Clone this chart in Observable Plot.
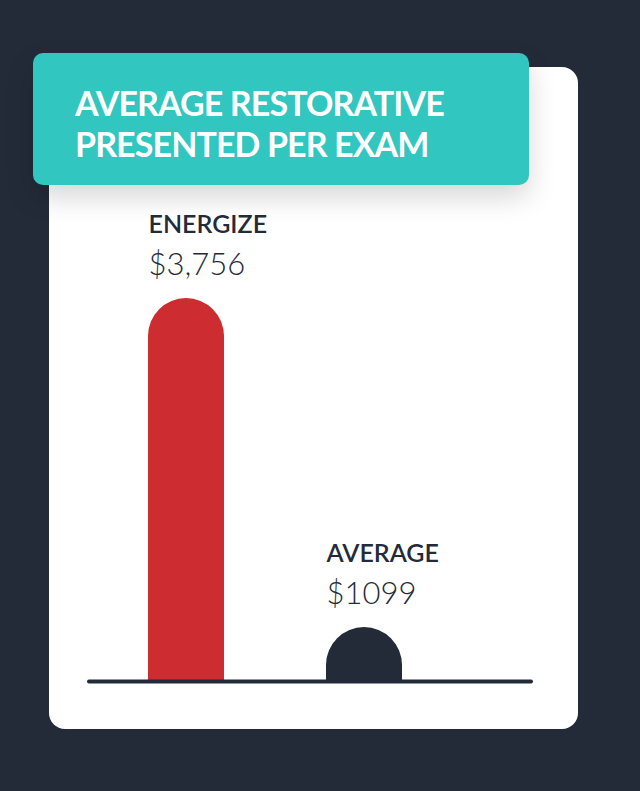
<!DOCTYPE html>
<html>
<head>
<meta charset="utf-8">
<script src="https://cdn.jsdelivr.net/npm/d3@7"></script>
<script src="https://cdn.jsdelivr.net/npm/@observablehq/plot@0.6"></script>
<style>
  html, body { margin: 0; padding: 0; background: #232b39; }
  #wrap { position: relative; width: 640px; height: 791px; background: #232b39; overflow: hidden; font-family: Lato, "Noto Sans", sans-serif; }
  #card { position: absolute; left: 49px; top: 67px; width: 529px; height: 662px; background: #ffffff; border-radius: 16px; }
  #head { position: absolute; left: 33px; top: 53px; width: 496px; height: 132px; background: #31c6c0; border-radius: 10px;
          box-shadow: 0 12px 28px rgba(0,0,0,0.16); }
  #head h1 { margin: 0; position: absolute; left: 42px; top: 29px; color: #ffffff; font-weight: 700; font-size: 34px; line-height: 41px; letter-spacing: -0.9px; }
  #chart { position: absolute; left: 0; top: 0; }
</style>
</head>
<body>
<div id="wrap">
  <div id="card"></div>
  <div id="head"><h1>AVERAGE RESTORATIVE<br>PRESENTED PER EXAM</h1></div>
  <div id="chart"></div>
</div>
<script>
const categories = ["ENERGIZE", "AVERAGE"];
const values = [3756, 1099];
const valueLabels = ["$3,756", "$1099"];
const barColors = ["#cd2c30", "#232b39"];

const data = categories.map((c, i) => ({category: c, value: values[i], label: valueLabels[i], color: barColors[i]}));
const yMin = 663;

const plot = Plot.plot({
  width: 640,
  height: 791,
  marginTop: 0,
  marginBottom: 110,
  marginLeft: 89,
  marginRight: 109,
  style: {background: "transparent", fontFamily: "Lato, 'Noto Sans', sans-serif", overflow: "visible"},
  x: {type: "band", domain: categories, range: [147, 402], paddingInner: 0.575, paddingOuter: 0, axis: null},
  y: {domain: [yMin, 3756], range: [681, 298], axis: null},
  marks: [
    Plot.rect(data, {x: "category", y1: yMin, y2: "value", fill: "color", ry2: 38, rx: 0}),
    Plot.ruleY([yMin], {stroke: "#232b39", strokeWidth: 4, strokeLinecap: "round"}),
    Plot.text(data, {x: "category", y: "value", text: "category", textAnchor: "start", lineAnchor: "bottom", dx: -38, dy: -66, fontSize: 25, fontWeight: 600, fill: "#232b39", letterSpacing: 0.3}),
    Plot.text(data, {x: "category", y: "value", text: "label", textAnchor: "start", lineAnchor: "bottom", dx: -38, dy: -24, fontSize: 31, fontWeight: 300, fill: "#232b39"})
  ]
});
document.getElementById("chart").appendChild(plot);
</script>
</body>
</html>
